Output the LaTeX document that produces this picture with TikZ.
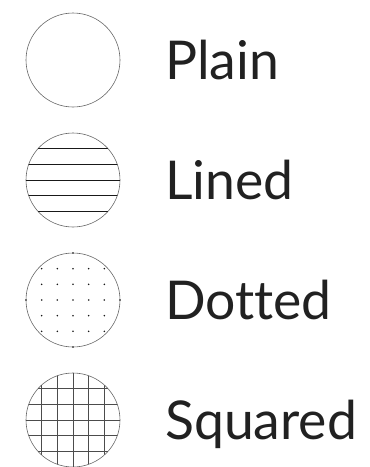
\documentclass[tikz,border=0pt]{standalone}
\usepackage{fontspec}
\setmainfont{Lato}[RawFeature=-liga]
\usetikzlibrary{positioning}
\tikzset{
  disc/.style={circle, draw=black!60, line width=0.6pt, minimum size=94pt,
               inner sep=0pt, outer sep=0pt},
  hatch/.style={draw=black!90, line width=0.7pt},   % lined fill
  gridline/.style={draw=black!70, line width=0.6pt}, % squared fill
  dot/.style={fill=black!90},                        % dotted fill
  lbl/.style={inner sep=0pt, anchor=west, text height=38pt, text depth=0pt,
              font=\fontsize{53.5pt}{58pt}\selectfont, text=black!87},
}
\newcommand{\cell}{15.667pt}

\begin{document}
\begin{tikzpicture}
\useasboundingbox (0pt,0pt) rectangle (370pt,-467pt);

\node[disc] (plain) at (73pt,-60pt) {};
\node[disc, below=26pt of plain] (lined) {};
\node[disc, below=26pt of lined] (dotted) {};
\node[disc, below=26pt of dotted] (squared) {};

\node[lbl, right=45pt of plain] (plainlbl) {Plain};
\node[lbl, right=45pt of lined] (linedlbl) {Lined};
\node[lbl, right=45pt of dotted] (dottedlbl) {Dotted};
\node[lbl, right=45pt of squared] (squaredlbl) {Squared};

% lined
\begin{scope}
  \clip (lined.center) circle (47pt);
  \foreach \j in {-2,...,2}
    \draw[hatch] ([yshift=\j*\cell]lined.west) -- ([yshift=\j*\cell]lined.east);
\end{scope}

% dotted
\foreach \i in {-3,...,3}
  \foreach \j in {-3,...,3} {
    \pgfmathtruncatemacro\rr{\i*\i+\j*\j}
    \ifnum\rr<10
      \fill[dot] ([shift={(\i*\cell,\j*\cell)}]dotted.center) circle (0.85pt);
    \fi
  }

% squared
\begin{scope}
  \clip (squared.center) circle (47pt);
  \foreach \k in {-2,...,2} {
    \draw[gridline] ([xshift=\k*\cell]squared.north) -- ([xshift=\k*\cell]squared.south);
    \draw[gridline] ([yshift=\k*\cell]squared.west) -- ([yshift=\k*\cell]squared.east);
  }
\end{scope}

\end{tikzpicture}
\end{document}
